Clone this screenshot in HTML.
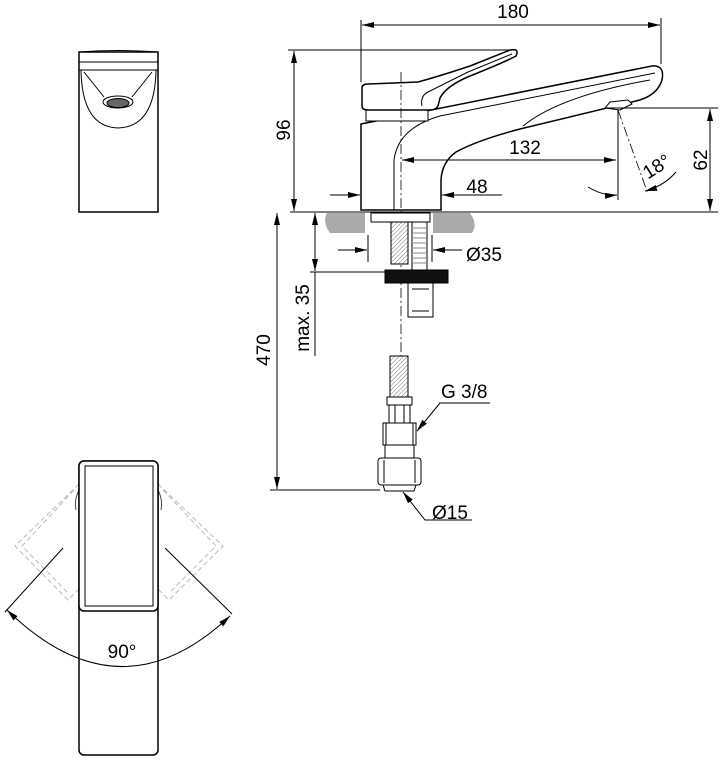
<!DOCTYPE html>
<html><head><meta charset="utf-8"><style>
html,body{margin:0;padding:0;background:#fff;}
svg{display:block;font-family:"Liberation Sans",sans-serif;}
</style></head><body>
<svg width="722" height="764" viewBox="0 0 722 764" xmlns="http://www.w3.org/2000/svg">
<defs>
<marker id="a" viewBox="0 0 12 6" refX="12" refY="3" markerWidth="12" markerHeight="6" orient="auto-start-reverse" markerUnits="userSpaceOnUse"><path d="M0,0L12,3L0,6Z" fill="#000"/></marker>
<pattern id="h" width="3" height="3" patternUnits="userSpaceOnUse" patternTransform="rotate(45)"><rect width="3" height="3" fill="#fff"/><line x1="0" y1="0" x2="0" y2="3" stroke="#777" stroke-width="1"/></pattern>
</defs>
<g fill="none" stroke="#000" stroke-width="1">
<!-- top-left view -->
<rect x="79" y="52" width="79" height="160" fill="#fff" stroke-width="1.5"/>
<path d="M79,52 Q118,49 158,52"/>
<line x1="79" y1="62" x2="158" y2="62"/>
<line x1="79" y1="70" x2="158" y2="70"/>
<path d="M81,70 Q82,127 118,128 Q155,127 156,70"/>
<path d="M84,72 L104,97 M152,72 L132,97"/>
<ellipse cx="118" cy="102" rx="15" ry="6"/>
<ellipse cx="118" cy="103" rx="11" ry="4.5" fill="#666"/>

<!-- bottom view -->
<g stroke="#bbb" stroke-dasharray="5,3">
<path d="M79,484 L15,546 L68,600 L80,588 M74,490 L22,546 L68,593"/>
<path d="M158,484 L223,546 L169,600 L157,588 M163,490 L216,546 L169,593"/>
</g>
<path d="M79,490 Q74,500 76,510 M158,490 Q163,500 161,510" stroke="#444"/>
<rect x="79" y="461" width="79" height="294" rx="5" fill="none" stroke-width="1.5"/>
<rect x="79" y="461" width="79" height="150" rx="5" fill="#fff" stroke-width="1.5"/>
<rect x="85" y="466" width="68" height="140"/>
<line x1="63" y1="548" x2="5" y2="612"/>
<line x1="165" y1="548" x2="232" y2="614"/>
<path d="M7,610 Q120,720 230,616" marker-start="url(#a)" marker-end="url(#a)"/>

<!-- counter -->
<path d="M327,213 H365 V233 H330 Q322,222 327,213Z M433,213 H470 Q478,224 472,233 H433Z" fill="#aaa" stroke="none"/>
<line x1="290" y1="212" x2="718" y2="212"/>

<!-- faucet body -->
<path d="M361,210 V124 L652,66 Q665,65 662,80 Q657,96 636,101 L520,129 Q478,140 456,152 Q442,162 441,180 V210 Z" fill="#fff" stroke-width="1.5"/>
<path d="M394,210 V160 Q398,128 440,116 L655,73"/>
<path d="M523,126 Q560,96 650,80"/>
<rect x="366" y="104" width="62" height="17" fill="#fff"/>
<path d="M362,88 Q362,84 368,84 L418,82 Q440,76 470,66 L510,50 Q520,48 516,56 Q505,62 470,76 Q446,86 440,98 L438,106 Q436,110 430,110 L368,110 Q362,110 362,106 Z" fill="#fff" stroke-width="1.5"/>
<path d="M422,106 Q420,96 428,92 L468,72 L512,54"/>
<path d="M605,108 L610,102 L628,100 L632,104 L620,110 Z" fill="#fff"/>
<line x1="401" y1="72" x2="401" y2="360" stroke-dasharray="10,3,2,3" stroke-width="0.8"/>

<!-- stem -->
<rect x="371" y="213" width="59" height="9" fill="#fff"/>
<rect x="391" y="222" width="17" height="42" fill="url(#h)"/>
<rect x="412" y="222" width="15" height="48" fill="#fff"/>
<path d="M412,228H427M412,233H427M412,238H427M412,243H427M412,248H427M412,253H427M412,258H427M412,263H427" stroke="#888"/>
<rect x="385" y="270" width="63" height="13" fill="#111"/>
<rect x="408" y="283" width="25" height="34" fill="#fff"/>
<path d="M412,289H429M412,311H429"/>

<!-- hose & fitting -->
<rect x="390" y="356" width="18" height="42" fill="url(#h)"/>
<rect x="387" y="397" width="25" height="8" fill="#fff"/>
<rect x="389" y="405" width="21" height="18" fill="#fff"/>
<path d="M395,405V423M404,405V423"/>
<rect x="383" y="423" width="33" height="22" fill="#fff"/>
<path d="M386,423V445M413,423V445"/>
<rect x="385" y="445" width="29" height="13" fill="#fff"/>
<rect x="378" y="458" width="43" height="27" rx="3" fill="#fff"/>
<path d="M384,460V483M415,460V483"/>
<path d="M383,485 H416 L414,491 H385 Z" fill="#fff"/>

<!-- dimensions -->
<line x1="361" y1="20" x2="361" y2="82"/>
<line x1="661" y1="18" x2="661" y2="64"/>
<line x1="362" y1="25" x2="660" y2="25" marker-start="url(#a)" marker-end="url(#a)"/>
<line x1="288" y1="50" x2="515" y2="50"/>
<line x1="294" y1="51" x2="294" y2="211" marker-start="url(#a)" marker-end="url(#a)"/>
<line x1="605" y1="108" x2="718" y2="108"/>
<line x1="710" y1="109" x2="710" y2="211" marker-start="url(#a)" marker-end="url(#a)"/>
<line x1="402" y1="160" x2="616" y2="160" marker-start="url(#a)" marker-end="url(#a)"/>
<line x1="618" y1="110" x2="618" y2="200"/>
<line x1="618" y1="110" x2="648" y2="194" stroke-dasharray="10,3,2,3" stroke-width="0.8"/>
<path d="M588,187 Q603,196 617,195" marker-end="url(#a)"/>
<path d="M676,172 Q664,186 645,191" marker-end="url(#a)"/>
<line x1="330" y1="195" x2="360" y2="195" marker-end="url(#a)"/>
<line x1="502" y1="195" x2="442" y2="195" marker-end="url(#a)"/>
<line x1="277" y1="213" x2="277" y2="489" marker-start="url(#a)" marker-end="url(#a)"/>
<line x1="270" y1="490" x2="380" y2="490"/>
<line x1="315" y1="213" x2="315" y2="271" marker-start="url(#a)" marker-end="url(#a)"/>
<line x1="310" y1="272" x2="385" y2="272"/>
<line x1="315" y1="272" x2="315" y2="356"/>
<line x1="368" y1="235" x2="368" y2="262"/>
<line x1="432" y1="235" x2="432" y2="262"/>
<line x1="338" y1="250" x2="367" y2="250" marker-end="url(#a)"/>
<line x1="462" y1="250" x2="433" y2="250" marker-end="url(#a)"/>
<path d="M490,403 H440 L417,431" marker-end="url(#a)"/>
<path d="M472,520 H425 L403,492" marker-end="url(#a)"/>
</g>
<g font-size="19" fill="#000">
<text x="513" y="18" text-anchor="middle">180</text>
<text x="525" y="154" text-anchor="middle">132</text>
<text x="477" y="193" text-anchor="middle">48</text>
<text x="466" y="261">Ø35</text>
<text x="441" y="398">G 3/8</text>
<text x="432" y="519">Ø15</text>
<text x="122" y="658" text-anchor="middle">90°</text>
<text transform="translate(290,130) rotate(-90)" text-anchor="middle">96</text>
<text transform="translate(707,160) rotate(-90)" text-anchor="middle">62</text>
<text transform="translate(270,350) rotate(-90)" text-anchor="middle">470</text>
<text transform="translate(309,318) rotate(-90)" text-anchor="middle">max. 35</text>
<text transform="translate(660,172) rotate(-32)" text-anchor="middle">18°</text>
</g>
</svg>
</body></html>
